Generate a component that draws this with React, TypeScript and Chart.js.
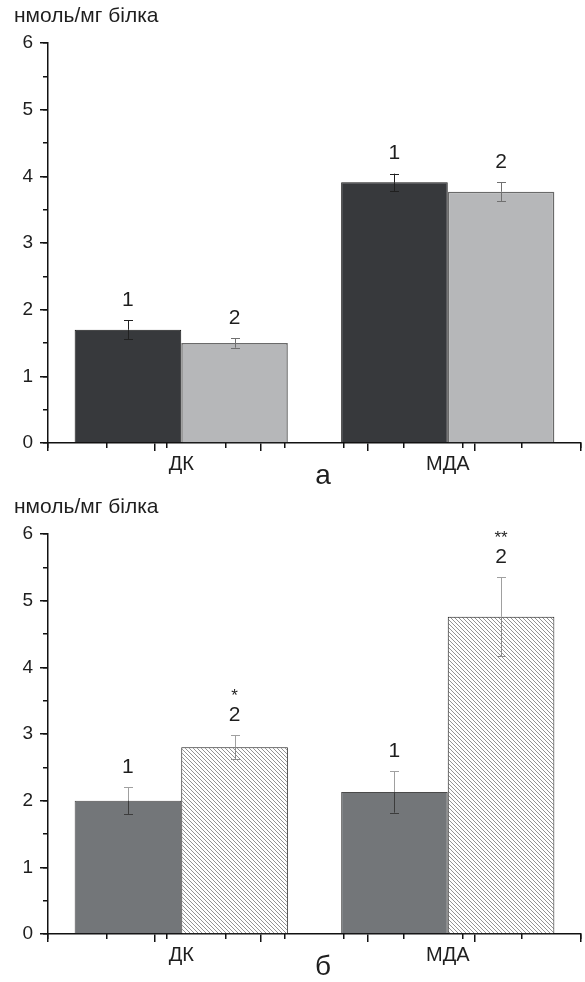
import React, { useEffect, useRef } from 'react';
import { Chart, registerables } from 'chart.js';

Chart.register(...registerables);

// ---------- data ----------
const categories = ['ДК', 'МДА'];
const yMin = 0;
const yMax = 6;
const yAxisTitle = 'нмоль/мг білка';

// panel а
const aCaption = 'а';
const aGroup1 = [1.7, 3.91];
const aGroup1Err = [0.14, 0.13];
const aGroup2 = [1.5, 3.77];
const aGroup2Err = [0.07, 0.14];
const aLabels1 = ['1', '1'];
const aLabels2 = ['2', '2'];
const aMarks2 = ['', ''];

// panel б
const bCaption = 'б';
const bGroup1 = [2.0, 2.13];
const bGroup1Err = [0.2, 0.31];
const bGroup2 = [2.8, 4.76];
const bGroup2Err = [0.18, 0.59];
const bLabels1 = ['1', '1'];
const bLabels2 = ['2', '2'];
const bMarks2 = ['*', '**'];

const FONT = "'Liberation Sans', Arial, sans-serif";
const TEXT = '#1e1e1e';

function makeHatch(): CanvasPattern | string {
  const tile = document.createElement('canvas');
  tile.width = 8;
  tile.height = 8;
  const c = tile.getContext('2d');
  if (!c) return '#ddd';
  c.fillStyle = '#ffffff';
  c.fillRect(0, 0, 8, 8);
  c.strokeStyle = '#808080';
  c.lineWidth = 0.85;
  for (let k = -8; k <= 8; k += 4) {
    c.beginPath();
    c.moveTo(k, 0);
    c.lineTo(k + 8, 8);
    c.stroke();
  }
  const p = c.createPattern(tile, 'repeat');
  return p || '#ddd';
}

type PanelProps = {
  caption: string;
  g1: number[];
  g1Err: number[];
  g2: number[];
  g2Err: number[];
  labels1: string[];
  labels2: string[];
  marks2: string[];
  variant: 'a' | 'b';
};

function Panel(props: PanelProps) {
  const ref = useRef<HTMLCanvasElement | null>(null);
  useEffect(() => {
    const canvas = ref.current;
    if (!canvas) return;
    const isA = props.variant === 'a';
    const fill1 = isA ? '#37393c' : '#737679';
    const fill2 = isA ? '#b6b7b9' : makeHatch();
    const border1 = isA ? '#151515' : '#4a4a4a';
    const border2 = isA ? '#6a6a6a' : '#1a1a1a';
    const errOut = isA ? ['#202020', '#707070'] : ['#a0a0a0', '#a0a0a0'];
    const errIn = isA ? ['#202020', '#707070'] : ['#3c3c3c', '#8a8a8a'];
    const errs = [props.g1Err, props.g2Err];
    const labels = [props.labels1, props.labels2];
    const marks = [null, props.marks2];

    const annot = {
      id: 'annot',
      afterDatasetsDraw(chart: any) {
        const ctx = chart.ctx as CanvasRenderingContext2D;
        const ys = chart.scales.y;
        ctx.save();
        chart.data.datasets.forEach((ds: any, di: number) => {
          const meta = chart.getDatasetMeta(di);
          meta.data.forEach((bar: any, i: number) => {
            const v = ds.data[i];
            const e = errs[di][i];
            const x = Math.round(bar.x) + 0.5;
            const yT = ys.getPixelForValue(v + e);
            const yB = ys.getPixelForValue(v - e);
            const yV = ys.getPixelForValue(v);
            ctx.lineWidth = 1;
            ctx.strokeStyle = errOut[di];
            ctx.beginPath();
            ctx.moveTo(x, yT);
            ctx.lineTo(x, Math.min(yV, yB));
            ctx.moveTo(x - 4.5, Math.round(yT) + 0.5);
            ctx.lineTo(x + 4.5, Math.round(yT) + 0.5);
            ctx.stroke();
            ctx.strokeStyle = errIn[di];
            ctx.beginPath();
            ctx.moveTo(x, yV);
            ctx.lineTo(x, yB);
            ctx.moveTo(x - 4.5, Math.round(yB) + 0.5);
            ctx.lineTo(x + 4.5, Math.round(yB) + 0.5);
            ctx.stroke();
            ctx.fillStyle = TEXT;
            ctx.textAlign = 'center';
            ctx.textBaseline = 'middle';
            ctx.font = `21px ${FONT}`;
            const ly = yT - 20;
            ctx.fillText(labels[di][i], bar.x, ly);
            const m = marks[di];
            if (m && m[i]) {
              ctx.font = `17px ${FONT}`;
              ctx.fillText(m[i], bar.x, ly - 19);
            }
          });
        });
        ctx.fillStyle = TEXT;
        ctx.textAlign = 'left';
        ctx.textBaseline = 'alphabetic';
        ctx.font = `21px ${FONT}`;
        ctx.fillText(yAxisTitle, 14, 21.5);
        ctx.textAlign = 'center';
        ctx.font = `28px ${FONT}`;
        ctx.fillText(props.caption, 323, 484);
        ctx.restore();
      },
    };

    const chart = new Chart(canvas, {
      type: 'bar',
      data: {
        labels: categories,
        datasets: [
          {
            data: props.g1,
            backgroundColor: fill1 as any,
            borderColor: border1,
            borderWidth: 1,
            barPercentage: 1,
            categoryPercentage: 0.8,
          },
          {
            data: props.g2,
            backgroundColor: fill2 as any,
            borderColor: border2,
            borderWidth: isA ? 1.5 : 1,
            barPercentage: 1,
            categoryPercentage: 0.8,
          },
        ],
      },
      options: {
        responsive: false,
        animation: false,
        events: [],
        layout: { padding: { top: 43, left: 0, right: 4, bottom: 0 } },
        plugins: {
          legend: { display: false },
          tooltip: { enabled: false },
          title: { display: false },
        },
        scales: {
          x: {
            type: 'category',
            position: 'bottom',
            offset: true,
            weight: 2,
            grid: { display: false, drawTicks: false },
            border: { display: false },
            ticks: { font: { size: 20, family: FONT }, color: TEXT, padding: 9 },
            afterFit: (s: any) => {
              s.height = 48;
            },
          },
          xMaj: {
            type: 'linear',
            axis: 'x',
            position: 'bottom',
            min: 0,
            max: 4,
            weight: 0,
            ticks: { display: false, stepSize: 1 },
            grid: { drawOnChartArea: false, tickLength: 8, color: '#111', lineWidth: 1.5 },
            border: { display: true, color: '#111', width: 1.5 },
            afterFit: (s: any) => {
              s.height = 0;
            },
          },
          xMin: {
            type: 'linear',
            axis: 'x',
            position: 'bottom',
            min: 0,
            max: 4,
            weight: 1,
            ticks: { display: false, stepSize: 0.5 },
            grid: { drawOnChartArea: false, tickLength: 5, color: '#111', lineWidth: 1.5 },
            border: { display: false },
            afterFit: (s: any) => {
              s.height = 0;
            },
          },
          y: {
            type: 'linear',
            position: 'left',
            min: yMin,
            max: yMax,
            weight: 1,
            ticks: { stepSize: 1, font: { size: 19, family: FONT }, color: TEXT, padding: 7 },
            grid: { drawOnChartArea: false, tickLength: 8, color: '#111', lineWidth: 1.5 },
            border: { display: true, color: '#111', width: 1.5 },
            afterFit: (s: any) => {
              s.width = 48;
            },
          },
          yMin: {
            type: 'linear',
            axis: 'y',
            position: 'left',
            min: yMin,
            max: yMax,
            weight: 0,
            ticks: { display: false, stepSize: 0.5 },
            grid: { drawOnChartArea: false, tickLength: 5, color: '#111', lineWidth: 1.5 },
            border: { display: false },
            afterFit: (s: any) => {
              s.width = 0;
            },
          },
        },
      } as any,
      plugins: [annot],
    });
    return () => chart.destroy();
  }, []);
  return <canvas ref={ref} width={585} height={491} style={{ display: 'block', width: 585, height: 491 }} />;
}

export default function App() {
  return (
    <div style={{ position: 'absolute', left: 0, top: 0, width: 585, height: 982, background: '#fff' }}>
      <Panel
        variant="a"
        caption={aCaption}
        g1={aGroup1}
        g1Err={aGroup1Err}
        g2={aGroup2}
        g2Err={aGroup2Err}
        labels1={aLabels1}
        labels2={aLabels2}
        marks2={aMarks2}
      />
      <Panel
        variant="b"
        caption={bCaption}
        g1={bGroup1}
        g1Err={bGroup1Err}
        g2={bGroup2}
        g2Err={bGroup2Err}
        labels1={bLabels1}
        labels2={bLabels2}
        marks2={bMarks2}
      />
    </div>
  );
}
